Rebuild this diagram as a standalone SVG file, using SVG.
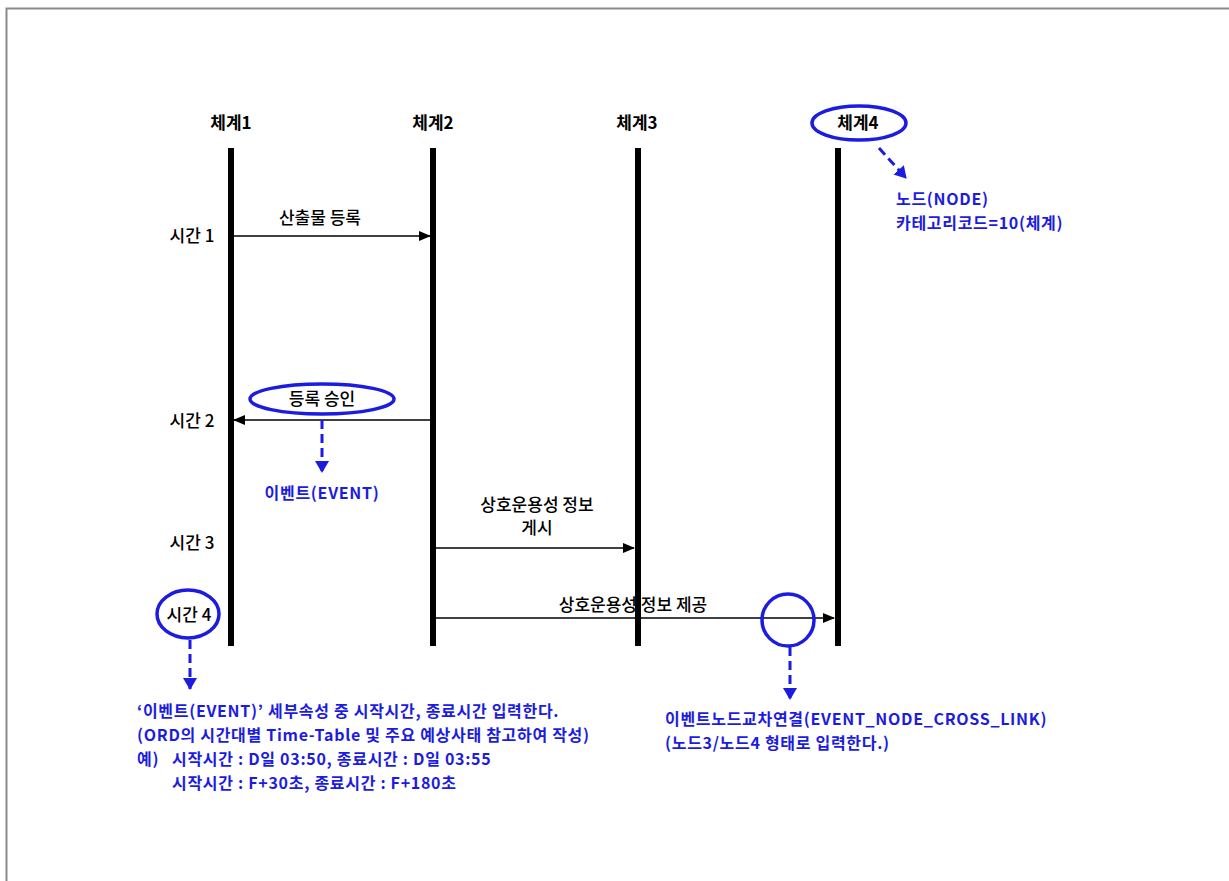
<svg xmlns="http://www.w3.org/2000/svg" width="1229" height="881" viewBox="0 0 1229 881">
<style>
  text { font-family: "Noto Sans CJK KR", "Noto Sans", sans-serif; font-size: 17px; }
  .hdr { font-weight: bold; fill: #000; text-anchor: middle; }
  .lbl { fill: #000; text-anchor: middle; font-weight: 500; }
  .blue { fill: #1c1ce0; font-weight: bold; font-size: 16px; letter-spacing: 0.7px; }
  .life { stroke: #000; stroke-width: 6; }
  .msg { stroke: #000; stroke-width: 1.5; fill: none; marker-end: url(#ah); }
  .ann { stroke: #1c1ce0; stroke-width: 3; fill: none; stroke-dasharray: 9 5; marker-end: url(#bh); }
  .mark { stroke: #1c1ce0; stroke-width: 3.5; fill: none; }
</style>
<defs>
  <marker id="ah" markerWidth="12" markerHeight="10" refX="11" refY="5" orient="auto" markerUnits="userSpaceOnUse">
    <path d="M0,0 L12,5 L0,10 Z" fill="#000"/>
  </marker>
  <marker id="bh" markerWidth="12" markerHeight="14" refX="11" refY="7" orient="auto" markerUnits="userSpaceOnUse">
    <path d="M0,0 L12,7 L0,14 Z" fill="#1c1ce0"/>
  </marker>
</defs>
<rect x="0" y="0" width="1229" height="881" fill="#fff"/>
<path d="M6.5,881 L6.5,8.5 L1229,8.5" stroke="#8a8a8a" stroke-width="2" fill="none"/>

<g id="connectors">
  <line class="msg" x1="234" y1="236" x2="430" y2="236"/>
  <line class="msg" x1="430" y1="420" x2="234" y2="420"/>
  <line class="msg" x1="436" y1="548" x2="634" y2="548"/>
  <line class="msg" x1="436" y1="618" x2="834" y2="618"/>
  <line class="ann" x1="879" y1="148" x2="906" y2="178"/>
  <line class="ann" x1="322" y1="420" x2="322" y2="472"/>
  <line class="ann" x1="190" y1="640" x2="190" y2="689"/>
  <line class="ann" x1="790" y1="647" x2="790" y2="699"/>
</g>

<g id="msg-labels">
  <text class="lbl" x="320" y="224">산출물 등록</text>
  <text class="lbl" x="537" y="511">상호운용성 정보</text>
  <text class="lbl" x="537" y="534">게시</text>
  <text class="lbl" x="633" y="611">상호운용성 정보 제공</text>
</g>

<g id="lifeline1"><text class="hdr" x="231" y="129">체계1</text><line class="life" x1="231" y1="148" x2="231" y2="646"/></g>
<g id="lifeline2"><text class="hdr" x="433" y="129">체계2</text><line class="life" x1="433" y1="148" x2="433" y2="646"/></g>
<g id="lifeline3"><text class="hdr" x="637" y="129">체계3</text><line class="life" x1="638" y1="148" x2="638" y2="646"/></g>
<g id="lifeline4"><text class="hdr" x="858" y="129">체계4</text><line class="life" x1="838" y1="148" x2="838" y2="646"/>
  <ellipse class="mark" cx="859" cy="123" rx="47" ry="17"/></g>

<g id="time-labels">
  <text class="lbl" x="192" y="242">시간 1</text>
  <text class="lbl" x="192" y="427">시간 2</text>
  <text class="lbl" x="192" y="549">시간 3</text>
  <g id="time4">
    <text class="lbl" x="189" y="621">시간 4</text>
    <ellipse class="mark" cx="188" cy="614" rx="31" ry="24"/>
  </g>
</g>

<g id="event-approve">
  <ellipse class="mark" cx="322" cy="399" rx="72" ry="15"/>
  <text class="lbl" x="322" y="405">등록 승인</text>
</g>

<g id="crosslink-mark">
  <circle class="mark" cx="788" cy="620" r="26"/>
</g>

<g id="note-node">
  <text class="blue" x="896" y="205">노드(NODE)</text>
  <text class="blue" x="896" y="229">카테고리코드=10(체계)</text>
</g>

<g id="note-event">
  <text class="blue" x="322" y="499" text-anchor="middle">이벤트(EVENT)</text>
</g>

<g id="note-time">
  <text class="blue" x="137" y="717">‘이벤트(EVENT)’ 세부속성 중 시작시간, 종료시간 입력한다.</text>
  <text class="blue" x="137" y="741">(ORD의 시간대별 Time-Table 및 주요 예상사태 참고하여 작성)</text>
  <text class="blue" x="137" y="765">예)</text>
  <text class="blue" x="172" y="765">시작시간 : D일 03:50, 종료시간 : D일 03:55</text>
  <text class="blue" x="172" y="789">시작시간 : F+30초, 종료시간 : F+180초</text>
</g>

<g id="note-crosslink">
  <text class="blue" x="665" y="725">이벤트노드교차연결(EVENT_NODE_CROSS_LINK)</text>
  <text class="blue" x="665" y="749">(노드3/노드4 형태로 입력한다.)</text>
</g>
</svg>
